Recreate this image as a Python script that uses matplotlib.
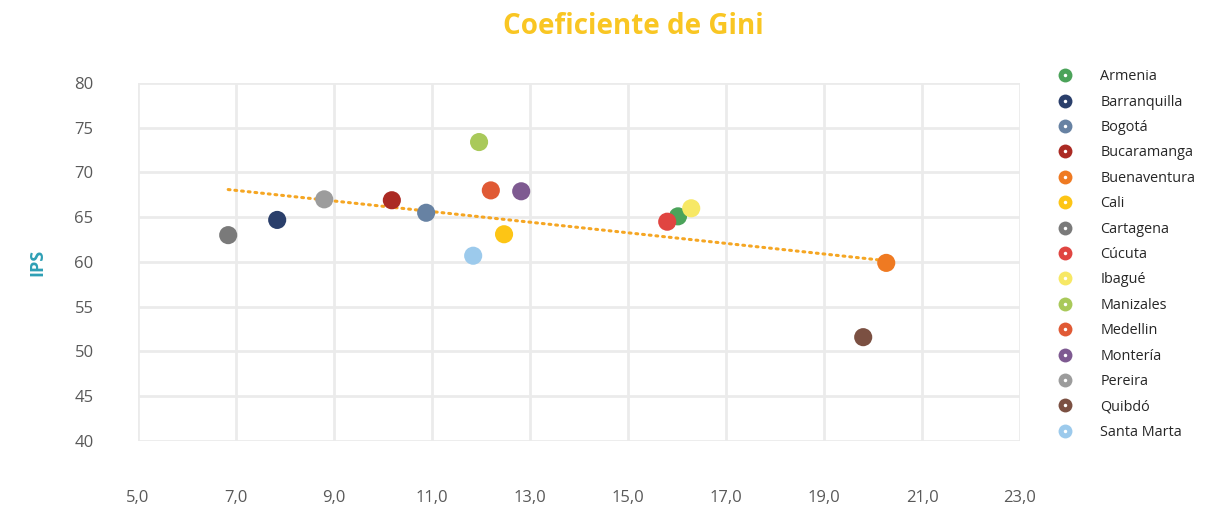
import numpy as np
import matplotlib
matplotlib.use("Agg")
import matplotlib.pyplot as plt
from matplotlib.lines import Line2D
from matplotlib.legend_handler import HandlerTuple

plt.rcParams["font.family"] = ["Open Sans", "DejaVu Sans"]

ciudades = ["Armenia", "Barranquilla", "Bogotá", "Bucaramanga", "Buenaventura",
            "Cali", "Cartagena", "Cúcuta", "Ibagué", "Manizales", "Medellin",
            "Montería", "Pereira", "Quibdó", "Santa Marta"]
gini = [16.02, 7.84, 10.88, 10.18, 20.27, 12.47, 6.84, 15.80, 16.29, 11.96,
        12.20, 12.82, 8.80, 19.80, 11.84]
ips = [65.1, 64.7, 65.5, 66.9, 59.9, 63.1, 63.0, 64.5, 66.0, 73.4,
       68.0, 67.9, 67.0, 51.6, 60.7]
colores = ["#4ba35a", "#2a3f6b", "#6782a3", "#ab2a23", "#ef7a22",
           "#fdc515", "#7a7a7a", "#e04541", "#f7e865", "#a9c95a",
           "#e05a35", "#7e5a91", "#9c9c9c", "#7b5042", "#9ccaec"]

fig = plt.figure(figsize=(12.27, 5.11), dpi=100)
ax = fig.add_axes([0.1125, 0.137, 0.7188, 0.7006])

# lineas de grilla
for xv in np.arange(5, 23.1, 2):
    ax.axvline(xv, color="#ebebeb", lw=2, zorder=0)
for yv in np.arange(40, 80.1, 5):
    ax.axhline(yv, color="#ebebeb", lw=2, zorder=0)

# tendencia lineal
m, b = np.polyfit(gini, ips, 1)
xt = np.array([min(gini), max(gini)])
ax.plot(xt, m * xt + b, color="#f5a623", lw=2.2, ls=(0, (0.6, 1.6)),
        dash_capstyle="round", zorder=2)

ax.scatter(gini, ips, s=170, c=colores, edgecolors="none", zorder=3)

ax.set_xlim(5, 23)
ax.set_ylim(40, 80)
ax.set_xticks(np.arange(5, 23.1, 2))
ax.set_xticklabels([f"{v:.1f}".replace(".", ",") for v in np.arange(5, 23.1, 2)])
ax.set_yticks(np.arange(40, 80.1, 5))
for s in ax.spines.values():
    s.set_visible(False)
ax.tick_params(length=0, labelsize=12, colors="#595959")
ax.tick_params(axis="x", pad=35)
ax.tick_params(axis="y", pad=32)

ax.set_ylabel("IPS", color="#2e9fb5", fontsize=13, fontweight="bold", labelpad=20)
fig.text(0.516, 0.948, "Coeficiente de Gini", color="#f9c623", fontsize=20,
         fontweight="bold", ha="center", va="center")

handles = [(Line2D([], [], marker="o", ls="", ms=10, mfc=c, mec="none"),
            Line2D([], [], marker="o", ls="", ms=2.5, mfc="white", mec="none"))
           for c in colores]
fig.legend(handles, ciudades, handler_map={tuple: HandlerTuple(ndivide=1)},
           loc="upper left", bbox_to_anchor=(0.846, 0.89), frameon=False,
           fontsize=10.4, labelspacing=0.72, handletextpad=1.4, labelcolor="#262626")

fig.savefig("out.png", dpi=100)
